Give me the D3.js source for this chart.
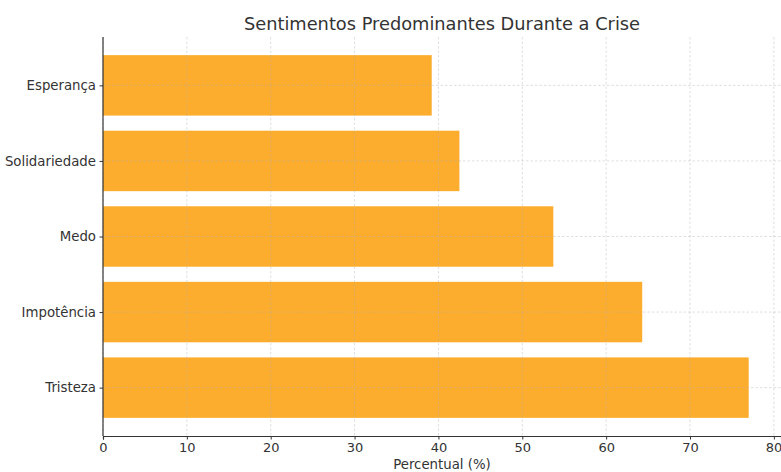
<!DOCTYPE html>
<html>
<head>
<meta charset="utf-8">
<script src="https://cdn.jsdelivr.net/npm/d3@7"></script>
<style>
  body { margin: 0; background: #fff; }
  svg { display: block; font-family: "DejaVu Sans", sans-serif; }
</style>
</head>
<body>
<div id="chart"></div>
<script>
// 데이타
var categories = ["Tristeza", "Impotência", "Medo", "Solidariedade", "Esperança"];
var values     = [77.0, 64.3, 53.7, 42.5, 39.2];
var xTicks     = [0, 10, 20, 30, 40, 50, 60, 70, 80];

var W = 781, H = 472,
    margin = {top: 37, right: 0, bottom: 36, left: 103},
    width  = W - margin.left - margin.right,
    height = H - margin.top - margin.bottom,
    FONT   = "'DejaVu Sans', sans-serif";

var svg = d3.select("#chart").append("svg")
    .attr("width", W).attr("height", H);

var g = svg.append("g")
    .attr("transform", "translate(" + margin.left + "," + margin.top + ")");

// Scales (matplotlib 식 margin)
var x = d3.scaleLinear().domain([0, d3.max(values) * 1.05]).range([0, width]);
var y = d3.scaleLinear().domain([-0.64, 4.64]).range([height, 0]);

// bars
g.selectAll("rect.bar").data(values).enter()
    .append("rect")
    .attr("class", "bar")
    .attr("x", x(0))
    .attr("y", function(d, i) { return y(i + 0.4); })
    .attr("width", function(d) { return x(d) - x(0); })
    .attr("height", y(-0.4) - y(0.4))
    .attr("fill", "#fcad2e");

// grid (bars 위에)
g.selectAll("line.vgrid").data(xTicks).enter()
    .append("line")
    .attr("x1", function(d) { return x(d); })
    .attr("x2", function(d) { return x(d); })
    .attr("y1", 0).attr("y2", height)
    .attr("stroke", "#b0b0b0").attr("stroke-opacity", 0.5)
    .attr("stroke-width", 0.8).attr("stroke-dasharray", "2.5,2");

g.selectAll("line.hgrid").data(categories).enter()
    .append("line")
    .attr("x1", 0).attr("x2", width)
    .attr("y1", function(d, i) { return y(i); })
    .attr("y2", function(d, i) { return y(i); })
    .attr("stroke", "#b0b0b0").attr("stroke-opacity", 0.5)
    .attr("stroke-width", 0.8).attr("stroke-dasharray", "2.5,2");

// x axis
var xAxis = g.append("g")
    .attr("transform", "translate(0," + height + ")")
    .call(d3.axisBottom(x).tickValues(xTicks).tickSize(3.5).tickPadding(3.5));
xAxis.attr("font-family", FONT).attr("font-size", 13);
xAxis.select(".domain").attr("stroke", "#333").attr("stroke-width", 1.2);
xAxis.selectAll(".tick line").attr("stroke", "#333");
xAxis.selectAll("text").attr("fill", "#333");
// 마지막 라벨이 오른쪽 끝에서 잘리지 않게 살짝 이동
xAxis.selectAll(".tick text").filter(function(d) { return d === 80; })
    .attr("text-anchor", "end").attr("dx", "8");

// y axis
var yAxis = g.append("g")
    .call(d3.axisLeft(y).tickValues(d3.range(categories.length))
        .tickFormat(function(d) { return categories[d]; })
        .tickSize(3.5).tickPadding(3.5));
yAxis.attr("font-family", FONT).attr("font-size", 13.3);
yAxis.select(".domain").attr("d", "M0,0V" + height).attr("stroke", "#333").attr("stroke-width", 1.2);
yAxis.selectAll(".tick line").attr("stroke", "#333");
yAxis.selectAll("text").attr("fill", "#333");

// 제목 및 축 라벨
svg.append("text")
    .attr("x", margin.left + width / 2).attr("y", 30)
    .attr("text-anchor", "middle")
    .attr("fill", "#333").style("font-size", "17.8px")
    .text("Sentimentos Predominantes Durante a Crise");

svg.append("text")
    .attr("x", margin.left + width / 2).attr("y", 469)
    .attr("text-anchor", "middle")
    .attr("fill", "#333").style("font-size", "13.3px")
    .text("Percentual (%)");
</script>
</body>
</html>
